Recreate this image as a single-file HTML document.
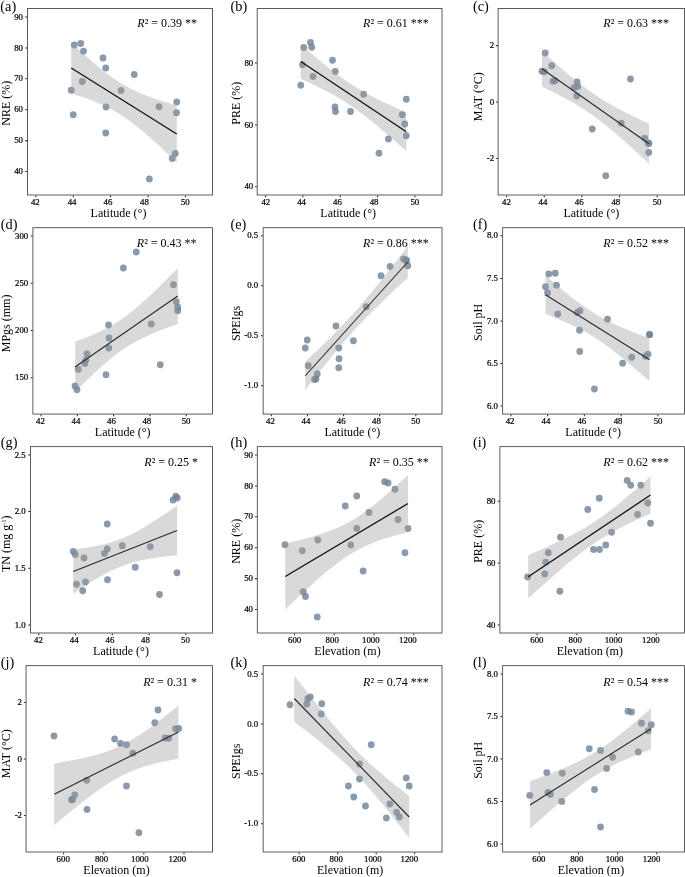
<!DOCTYPE html>
<html lang="en"><head><meta charset="utf-8"><title>Regression panels</title>
<style>
html,body{margin:0;padding:0;background:#ffffff;}
body{width:685px;height:877px;overflow:hidden;font-family:"Liberation Serif",serif;}
svg text{font-family:"Liberation Serif",serif;}
</style></head><body>
<svg width="685" height="877" viewBox="0 0 685 877" style="display:block;will-change:transform;font-family:'Liberation Serif',serif">
<rect x="0" y="0" width="685" height="877" fill="#ffffff"/>
<g>
<g fill="#6e8195" fill-opacity="0.8">
<circle cx="74.25" cy="45" r="3.4"/>
<circle cx="80.75" cy="43.5" r="3.4"/>
<circle cx="83.5" cy="51.25" r="3.4"/>
<circle cx="103" cy="58" r="3.4"/>
<circle cx="105.75" cy="68" r="3.4"/>
<circle cx="134.25" cy="74.5" r="3.4"/>
<circle cx="82.25" cy="81.5" r="3.4"/>
<circle cx="71.25" cy="90.25" r="3.4"/>
<circle cx="121" cy="90.5" r="3.4"/>
<circle cx="106" cy="107" r="3.4"/>
<circle cx="159" cy="106.75" r="3.4"/>
<circle cx="73.25" cy="114.75" r="3.4"/>
<circle cx="105.75" cy="133" r="3.4"/>
<circle cx="149.4" cy="179" r="3.4"/>
<circle cx="172.25" cy="158.5" r="3.4"/>
<circle cx="176.75" cy="102" r="3.4"/>
<circle cx="176.5" cy="112.75" r="3.4"/>
<circle cx="175.25" cy="153.5" r="3.4"/>
</g>
<path d="M71.25 42.51 L73.96 45.06 L76.66 47.6 L79.37 50.11 L82.07 52.6 L84.78 55.05 L87.48 57.48 L90.19 59.87 L92.89 62.22 L95.6 64.52 L98.3 66.78 L101.01 68.98 L103.71 71.13 L106.42 73.21 L109.12 75.23 L111.83 77.18 L114.53 79.05 L117.24 80.84 L119.94 82.56 L122.65 84.2 L125.35 85.76 L128.06 87.25 L130.76 88.66 L133.47 90 L136.17 91.28 L138.88 92.5 L141.58 93.66 L144.29 94.77 L146.99 95.83 L149.7 96.85 L152.4 97.83 L155.11 98.78 L157.81 99.7 L160.52 100.59 L163.22 101.45 L165.93 102.29 L168.63 103.11 L171.34 103.92 L174.04 104.7 L176.75 105.47 L176.75 162.53 L174.04 159.91 L171.34 157.32 L168.63 154.73 L165.93 152.17 L163.22 149.63 L160.52 147.11 L157.81 144.61 L155.11 142.14 L152.4 139.71 L149.7 137.3 L146.99 134.94 L144.29 132.62 L141.58 130.34 L138.88 128.12 L136.17 125.95 L133.47 123.84 L130.76 121.8 L128.06 119.83 L125.35 117.93 L122.65 116.11 L119.94 114.36 L117.24 112.69 L114.53 111.11 L111.83 109.59 L109.12 108.15 L106.42 106.79 L103.71 105.49 L101.01 104.25 L98.3 103.07 L95.6 101.94 L92.89 100.86 L90.19 99.83 L87.48 98.83 L84.78 97.87 L82.07 96.94 L79.37 96.04 L76.66 95.17 L73.96 94.32 L71.25 93.49 Z" fill="#999999" fill-opacity="0.375"/>
<line x1="71.25" y1="68" x2="176.75" y2="134" stroke="#111111" stroke-width="1.3"/>
<rect x="27.5" y="8.5" width="185" height="186.5" fill="none" stroke="#404040" stroke-width="0.85"/>
<path d="M35.91 195.4 v1.8 M73.28 195.4 v1.8 M110.66 195.4 v1.8 M148.03 195.4 v1.8 M185.4 195.4 v1.8 M27.1 17 h-1.8 M27.1 47.9 h-1.8 M27.1 78.8 h-1.8 M27.1 109.7 h-1.8 M27.1 140.6 h-1.8 M27.1 171.5 h-1.8" stroke="#262626" stroke-width="1.05" fill="none"/>
<g font-size="8.8" fill="#000000" stroke="#000000" stroke-width="0.22">
<text x="35.3" y="205.1" text-anchor="middle">42</text>
<text x="72.1" y="205.1" text-anchor="middle">44</text>
<text x="107.9" y="205.1" text-anchor="middle">46</text>
<text x="144.5" y="205.1" text-anchor="middle">48</text>
<text x="185.3" y="205.1" text-anchor="middle">50</text>
<text x="22.95" y="19.65" text-anchor="end">90</text>
<text x="22.95" y="50.55" text-anchor="end">80</text>
<text x="22.95" y="81.45" text-anchor="end">70</text>
<text x="22.95" y="112.35" text-anchor="end">60</text>
<text x="22.95" y="143.25" text-anchor="end">50</text>
<text x="22.95" y="174.15" text-anchor="end">40</text>
</g>
<text x="118.5" y="216.6" font-size="12" text-anchor="middle" fill="#000000">Latitude (°)</text>
<text transform="translate(9.5 103.25) rotate(-90)" font-size="12" text-anchor="middle" fill="#000000">NRE (%)</text>
<text x="0.35" y="10.9" font-size="14.3" fill="#000000">(a)</text>
<text x="197" y="27.35" font-size="12" text-anchor="end" fill="#000000"><tspan font-style="italic">R</tspan>² = 0.39 **</text>
</g>
<g>
<g fill="#6e8195" fill-opacity="0.8">
<circle cx="303.75" cy="47.5" r="3.4"/>
<circle cx="310.5" cy="42.5" r="3.4"/>
<circle cx="311.75" cy="47.25" r="3.4"/>
<circle cx="332.5" cy="60.25" r="3.4"/>
<circle cx="335.25" cy="71.5" r="3.4"/>
<circle cx="302.5" cy="64.75" r="3.4"/>
<circle cx="313" cy="76.5" r="3.4"/>
<circle cx="300.75" cy="85.25" r="3.4"/>
<circle cx="363.6" cy="94.25" r="3.4"/>
<circle cx="335" cy="107" r="3.4"/>
<circle cx="335.5" cy="111.5" r="3.4"/>
<circle cx="350.5" cy="111.5" r="3.4"/>
<circle cx="388.4" cy="139" r="3.4"/>
<circle cx="379" cy="153.25" r="3.4"/>
<circle cx="406.25" cy="99.25" r="3.4"/>
<circle cx="402.25" cy="114.75" r="3.4"/>
<circle cx="404.75" cy="124" r="3.4"/>
<circle cx="406.25" cy="135.75" r="3.4"/>
</g>
<path d="M300.75 44.14 L303.46 46.53 L306.16 48.91 L308.87 51.26 L311.57 53.61 L314.28 55.93 L316.98 58.23 L319.69 60.5 L322.39 62.75 L325.1 64.97 L327.8 67.15 L330.51 69.3 L333.21 71.41 L335.92 73.48 L338.62 75.5 L341.33 77.47 L344.03 79.4 L346.74 81.27 L349.44 83.09 L352.15 84.85 L354.85 86.57 L357.56 88.23 L360.26 89.84 L362.97 91.4 L365.67 92.92 L368.38 94.4 L371.08 95.84 L373.79 97.25 L376.49 98.62 L379.2 99.97 L381.9 101.29 L384.61 102.58 L387.31 103.86 L390.02 105.11 L392.72 106.35 L395.43 107.57 L398.13 108.78 L400.84 109.98 L403.54 111.16 L406.25 112.34 L406.25 151.16 L403.54 148.73 L400.84 146.32 L398.13 143.91 L395.43 141.52 L392.72 139.14 L390.02 136.77 L387.31 134.43 L384.61 132.1 L381.9 129.79 L379.2 127.51 L376.49 125.25 L373.79 123.02 L371.08 120.82 L368.38 118.66 L365.67 116.54 L362.97 114.46 L360.26 112.42 L357.56 110.43 L354.85 108.48 L352.15 106.59 L349.44 104.76 L346.74 102.97 L344.03 101.24 L341.33 99.56 L338.62 97.94 L335.92 96.36 L333.21 94.82 L330.51 93.33 L327.8 91.87 L325.1 90.46 L322.39 89.07 L319.69 87.72 L316.98 86.39 L314.28 85.09 L311.57 83.81 L308.87 82.54 L306.16 81.3 L303.46 80.07 L300.75 78.86 Z" fill="#999999" fill-opacity="0.375"/>
<line x1="300.75" y1="61.5" x2="406.25" y2="131.75" stroke="#111111" stroke-width="1.3"/>
<rect x="257.2" y="8.5" width="184.8" height="186.5" fill="none" stroke="#404040" stroke-width="0.85"/>
<path d="M265.6 195.4 v1.8 M302.93 195.4 v1.8 M340.27 195.4 v1.8 M377.6 195.4 v1.8 M414.93 195.4 v1.8 M256.8 63 h-1.8 M256.8 125 h-1.8 M256.8 186.75 h-1.8" stroke="#262626" stroke-width="1.05" fill="none"/>
<g font-size="8.8" fill="#000000" stroke="#000000" stroke-width="0.22">
<text x="265.8" y="205.1" text-anchor="middle">42</text>
<text x="301.6" y="205.1" text-anchor="middle">44</text>
<text x="337.5" y="205.1" text-anchor="middle">46</text>
<text x="374.1" y="205.1" text-anchor="middle">48</text>
<text x="414.8" y="205.1" text-anchor="middle">50</text>
<text x="253.2" y="65.65" text-anchor="end">80</text>
<text x="253.2" y="127.65" text-anchor="end">60</text>
<text x="253.2" y="189.4" text-anchor="end">40</text>
</g>
<text x="348.2" y="216.6" font-size="12" text-anchor="middle" fill="#000000">Latitude (°)</text>
<text transform="translate(239.75 103.25) rotate(-90)" font-size="12" text-anchor="middle" fill="#000000">PRE (%)</text>
<text x="230.5" y="10.9" font-size="14.3" fill="#000000">(b)</text>
<text x="428.75" y="27.35" font-size="12" text-anchor="end" fill="#000000"><tspan font-style="italic">R</tspan>² = 0.61 ***</text>
</g>
<g>
<g fill="#6e8195" fill-opacity="0.8">
<circle cx="545.25" cy="53" r="3.4"/>
<circle cx="551.75" cy="65.75" r="3.4"/>
<circle cx="542" cy="71.25" r="3.4"/>
<circle cx="544.25" cy="71.75" r="3.4"/>
<circle cx="553" cy="81.25" r="3.4"/>
<circle cx="555" cy="80.75" r="3.4"/>
<circle cx="577" cy="82" r="3.4"/>
<circle cx="574" cy="87.75" r="3.4"/>
<circle cx="577.75" cy="86.5" r="3.4"/>
<circle cx="576.75" cy="96" r="3.4"/>
<circle cx="621.25" cy="123.25" r="3.4"/>
<circle cx="592.25" cy="129" r="3.4"/>
<circle cx="605.75" cy="175.75" r="3.4"/>
<circle cx="630.5" cy="79" r="3.4"/>
<circle cx="644.75" cy="138.25" r="3.4"/>
<circle cx="648" cy="143" r="3.4"/>
<circle cx="648.75" cy="152.5" r="3.4"/>
<circle cx="649" cy="143.5" r="3.4"/>
</g>
<path d="M542 50.89 L544.74 53.42 L547.49 55.93 L550.23 58.43 L552.97 60.91 L555.72 63.37 L558.46 65.8 L561.21 68.21 L563.95 70.6 L566.69 72.95 L569.44 75.27 L572.18 77.55 L574.92 79.8 L577.67 81.99 L580.41 84.15 L583.15 86.25 L585.9 88.3 L588.64 90.29 L591.38 92.24 L594.13 94.12 L596.87 95.96 L599.62 97.73 L602.36 99.46 L605.1 101.14 L607.85 102.77 L610.59 104.37 L613.33 105.92 L616.08 107.43 L618.82 108.92 L621.56 110.37 L624.31 111.79 L627.05 113.2 L629.79 114.58 L632.54 115.94 L635.28 117.28 L638.03 118.61 L640.77 119.92 L643.51 121.22 L646.26 122.51 L649 123.79 L649 163.71 L646.26 161.14 L643.51 158.59 L640.77 156.04 L638.03 153.51 L635.28 150.99 L632.54 148.49 L629.79 146 L627.05 143.53 L624.31 141.09 L621.56 138.67 L618.82 136.28 L616.08 133.91 L613.33 131.58 L610.59 129.29 L607.85 127.03 L605.1 124.82 L602.36 122.65 L599.62 120.54 L596.87 118.47 L594.13 116.45 L591.38 114.49 L588.64 112.59 L585.9 110.74 L583.15 108.94 L580.41 107.2 L577.67 105.51 L574.92 103.86 L572.18 102.25 L569.44 100.69 L566.69 99.16 L563.95 97.67 L561.21 96.21 L558.46 94.77 L555.72 93.36 L552.97 91.98 L550.23 90.61 L547.49 89.26 L544.74 87.93 L542 86.61 Z" fill="#999999" fill-opacity="0.375"/>
<line x1="542" y1="68.75" x2="649" y2="143.75" stroke="#2a2a2a" stroke-width="1.1"/>
<rect x="498.1" y="8.5" width="186.4" height="186.5" fill="none" stroke="#404040" stroke-width="0.85"/>
<path d="M506.57 195.4 v1.8 M544.23 195.4 v1.8 M581.89 195.4 v1.8 M619.54 195.4 v1.8 M657.2 195.4 v1.8 M497.7 45.6 h-1.8 M497.7 102 h-1.8 M497.7 158.5 h-1.8" stroke="#262626" stroke-width="1.05" fill="none"/>
<g font-size="8.8" fill="#000000" stroke="#000000" stroke-width="0.22">
<text x="506.4" y="205.1" text-anchor="middle">42</text>
<text x="542.9" y="205.1" text-anchor="middle">44</text>
<text x="579.2" y="205.1" text-anchor="middle">46</text>
<text x="615.8" y="205.1" text-anchor="middle">48</text>
<text x="657.1" y="205.1" text-anchor="middle">50</text>
<text x="494.2" y="48.25" text-anchor="end">2</text>
<text x="494.2" y="104.65" text-anchor="end">0</text>
<text x="494.2" y="161.15" text-anchor="end">-2</text>
</g>
<text x="591.3" y="216.6" font-size="12" text-anchor="middle" fill="#000000">Latitude (°)</text>
<text transform="translate(482 96.75) rotate(-90)" font-size="12" text-anchor="middle" fill="#000000">MAT (°C)</text>
<text x="473" y="10.9" font-size="14.3" fill="#000000">(c)</text>
<text x="669" y="27.35" font-size="12" text-anchor="end" fill="#000000"><tspan font-style="italic">R</tspan>² = 0.63 ***</text>
</g>
<g>
<g fill="#6e8195" fill-opacity="0.8">
<circle cx="136.25" cy="252" r="3.4"/>
<circle cx="123.4" cy="268" r="3.4"/>
<circle cx="108.5" cy="325" r="3.4"/>
<circle cx="151.25" cy="324" r="3.4"/>
<circle cx="109" cy="338" r="3.4"/>
<circle cx="108.75" cy="348" r="3.4"/>
<circle cx="87" cy="354" r="3.4"/>
<circle cx="85.75" cy="360.25" r="3.4"/>
<circle cx="84.75" cy="363.5" r="3.4"/>
<circle cx="78.25" cy="369.25" r="3.4"/>
<circle cx="106" cy="374.75" r="3.4"/>
<circle cx="160.25" cy="364.75" r="3.4"/>
<circle cx="75" cy="386" r="3.4"/>
<circle cx="77" cy="389.75" r="3.4"/>
<circle cx="173.5" cy="284.75" r="3.4"/>
<circle cx="176.25" cy="301.75" r="3.4"/>
<circle cx="177.75" cy="307.25" r="3.4"/>
<circle cx="177.75" cy="310.75" r="3.4"/>
</g>
<path d="M75.25 341.69 L77.88 340.72 L80.51 339.74 L83.13 338.73 L85.76 337.69 L88.39 336.63 L91.02 335.54 L93.65 334.4 L96.28 333.24 L98.9 332.02 L101.53 330.76 L104.16 329.45 L106.79 328.08 L109.42 326.65 L112.04 325.15 L114.67 323.59 L117.3 321.95 L119.93 320.23 L122.56 318.44 L125.19 316.57 L127.81 314.63 L130.44 312.61 L133.07 310.52 L135.7 308.36 L138.33 306.14 L140.96 303.85 L143.58 301.52 L146.21 299.13 L148.84 296.7 L151.47 294.22 L154.1 291.71 L156.72 289.16 L159.35 286.59 L161.98 283.98 L164.61 281.35 L167.24 278.7 L169.87 276.03 L172.49 273.34 L175.12 270.64 L177.75 267.92 L177.75 324.08 L175.12 324.99 L172.49 325.92 L169.87 326.85 L167.24 327.81 L164.61 328.79 L161.98 329.79 L159.35 330.81 L156.72 331.86 L154.1 332.95 L151.47 334.06 L148.84 335.21 L146.21 336.41 L143.58 337.65 L140.96 338.94 L138.33 340.29 L135.7 341.69 L133.07 343.16 L130.44 344.7 L127.81 346.31 L125.19 347.99 L122.56 349.75 L119.93 351.59 L117.3 353.5 L114.67 355.49 L112.04 357.55 L109.42 359.68 L106.79 361.88 L104.16 364.14 L101.53 366.46 L98.9 368.82 L96.28 371.24 L93.65 373.7 L91.02 376.2 L88.39 378.73 L85.76 381.29 L83.13 383.89 L80.51 386.51 L77.88 389.15 L75.25 391.81 Z" fill="#999999" fill-opacity="0.375"/>
<line x1="75.25" y1="366.75" x2="177.75" y2="296" stroke="#2a2a2a" stroke-width="1.1"/>
<rect x="32.9" y="227.7" width="179.6" height="186.35" fill="none" stroke="#404040" stroke-width="0.85"/>
<path d="M41.06 414.45 v1.8 M77.35 414.45 v1.8 M113.63 414.45 v1.8 M149.91 414.45 v1.8 M186.19 414.45 v1.8 M32.5 236 h-1.8 M32.5 283.25 h-1.8 M32.5 330.5 h-1.8 M32.5 377.75 h-1.8" stroke="#262626" stroke-width="1.05" fill="none"/>
<g font-size="8.8" fill="#000000" stroke="#000000" stroke-width="0.22">
<text x="40.4" y="424.1" text-anchor="middle">42</text>
<text x="75.9" y="424.1" text-anchor="middle">44</text>
<text x="111.5" y="424.1" text-anchor="middle">46</text>
<text x="146.8" y="424.1" text-anchor="middle">48</text>
<text x="186.1" y="424.1" text-anchor="middle">50</text>
<text x="28.2" y="238.65" text-anchor="end">300</text>
<text x="28.2" y="285.9" text-anchor="end">250</text>
<text x="28.2" y="333.15" text-anchor="end">200</text>
<text x="28.2" y="380.4" text-anchor="end">150</text>
</g>
<text x="122.7" y="435.6" font-size="12" text-anchor="middle" fill="#000000">Latitude (°)</text>
<text transform="translate(9.5 323.38) rotate(-90)" font-size="12" text-anchor="middle" fill="#000000">MPgs (mm)</text>
<text x="0.75" y="229.35" font-size="14.3" fill="#000000">(d)</text>
<text x="196.5" y="246.55" font-size="12" text-anchor="end" fill="#000000"><tspan font-style="italic">R</tspan>² = 0.43 **</text>
</g>
<g>
<g fill="#6e8195" fill-opacity="0.8">
<circle cx="390.1" cy="266.5" r="3.4"/>
<circle cx="381" cy="275.75" r="3.4"/>
<circle cx="366.25" cy="306.75" r="3.4"/>
<circle cx="336" cy="326" r="3.4"/>
<circle cx="307.25" cy="340" r="3.4"/>
<circle cx="353.4" cy="340.75" r="3.4"/>
<circle cx="305.25" cy="348" r="3.4"/>
<circle cx="338.75" cy="348" r="3.4"/>
<circle cx="339" cy="358.75" r="3.4"/>
<circle cx="338.75" cy="367.75" r="3.4"/>
<circle cx="308.25" cy="365.75" r="3.4"/>
<circle cx="317.25" cy="374" r="3.4"/>
<circle cx="314.5" cy="379.5" r="3.4"/>
<circle cx="316" cy="379" r="3.4"/>
<circle cx="403.5" cy="259" r="3.4"/>
<circle cx="406.5" cy="260.75" r="3.4"/>
<circle cx="407.75" cy="265.75" r="3.4"/>
<circle cx="406" cy="260" r="3.4"/>
</g>
<path d="M305.25 361.56 L307.88 359.13 L310.51 356.68 L313.13 354.22 L315.76 351.75 L318.39 349.26 L321.02 346.75 L323.65 344.22 L326.28 341.67 L328.9 339.1 L331.53 336.5 L334.16 333.87 L336.79 331.2 L339.42 328.5 L342.04 325.77 L344.67 322.99 L347.3 320.17 L349.93 317.31 L352.56 314.41 L355.19 311.46 L357.81 308.47 L360.44 305.43 L363.07 302.36 L365.7 299.24 L368.33 296.09 L370.96 292.91 L373.58 289.69 L376.21 286.45 L378.84 283.18 L381.47 279.89 L384.1 276.57 L386.72 273.24 L389.35 269.89 L391.98 266.52 L394.61 263.14 L397.24 259.75 L399.87 256.34 L402.49 252.93 L405.12 249.5 L407.75 246.07 L407.75 277.93 L405.12 280.33 L402.49 282.74 L399.87 285.16 L397.24 287.59 L394.61 290.03 L391.98 292.48 L389.35 294.95 L386.72 297.43 L384.1 299.93 L381.47 302.45 L378.84 304.99 L376.21 307.55 L373.58 310.14 L370.96 312.76 L368.33 315.41 L365.7 318.09 L363.07 320.81 L360.44 323.57 L357.81 326.37 L355.19 329.21 L352.56 332.09 L349.93 335.02 L347.3 337.99 L344.67 341.01 L342.04 344.07 L339.42 347.16 L336.79 350.3 L334.16 353.47 L331.53 356.67 L328.9 359.9 L326.28 363.16 L323.65 366.44 L321.02 369.75 L318.39 373.07 L315.76 376.42 L313.13 379.78 L310.51 383.15 L307.88 386.54 L305.25 389.94 Z" fill="#999999" fill-opacity="0.375"/>
<line x1="305.25" y1="375.75" x2="407.75" y2="262" stroke="#2a2a2a" stroke-width="1.1"/>
<rect x="263.15" y="227.7" width="178.85" height="186.35" fill="none" stroke="#404040" stroke-width="0.85"/>
<path d="M271.28 414.45 v1.8 M307.41 414.45 v1.8 M343.54 414.45 v1.8 M379.67 414.45 v1.8 M415.8 414.45 v1.8 M262.75 235.75 h-1.8 M262.75 285.75 h-1.8 M262.75 335.75 h-1.8 M262.75 385.75 h-1.8" stroke="#262626" stroke-width="1.05" fill="none"/>
<g font-size="8.8" fill="#000000" stroke="#000000" stroke-width="0.22">
<text x="270.4" y="424.1" text-anchor="middle">42</text>
<text x="305.9" y="424.1" text-anchor="middle">44</text>
<text x="341.2" y="424.1" text-anchor="middle">46</text>
<text x="376.5" y="424.1" text-anchor="middle">48</text>
<text x="415.7" y="424.1" text-anchor="middle">50</text>
<text x="258.15" y="238.4" text-anchor="end">0.5</text>
<text x="258.15" y="288.4" text-anchor="end">0.0</text>
<text x="258.15" y="338.4" text-anchor="end">-0.5</text>
<text x="258.15" y="388.4" text-anchor="end">-1.0</text>
</g>
<text x="352.3" y="435.6" font-size="12" text-anchor="middle" fill="#000000">Latitude (°)</text>
<text transform="translate(239.75 323.38) rotate(-90)" font-size="12" text-anchor="middle" fill="#000000">SPEIgs</text>
<text x="230.5" y="229.35" font-size="14.3" fill="#000000">(e)</text>
<text x="428.75" y="246.55" font-size="12" text-anchor="end" fill="#000000"><tspan font-style="italic">R</tspan>² = 0.86 ***</text>
</g>
<g>
<g fill="#6e8195" fill-opacity="0.8">
<circle cx="548.75" cy="274" r="3.4"/>
<circle cx="555.25" cy="273.25" r="3.4"/>
<circle cx="556.5" cy="285.25" r="3.4"/>
<circle cx="545.5" cy="286.75" r="3.4"/>
<circle cx="547.5" cy="292.75" r="3.4"/>
<circle cx="557.75" cy="314" r="3.4"/>
<circle cx="577.25" cy="312.5" r="3.4"/>
<circle cx="580" cy="310.75" r="3.4"/>
<circle cx="607.5" cy="319.25" r="3.4"/>
<circle cx="579.5" cy="330.25" r="3.4"/>
<circle cx="579.75" cy="351.5" r="3.4"/>
<circle cx="622.6" cy="363.25" r="3.4"/>
<circle cx="594.4" cy="389" r="3.4"/>
<circle cx="649.5" cy="334.5" r="3.4"/>
<circle cx="649.6" cy="334.7" r="3.4"/>
<circle cx="648" cy="354.25" r="3.4"/>
<circle cx="645.5" cy="356.25" r="3.4"/>
<circle cx="631.75" cy="357.25" r="3.4"/>
</g>
<path d="M545.5 275.41 L548.17 277.74 L550.83 280.04 L553.5 282.33 L556.17 284.6 L558.83 286.85 L561.5 289.07 L564.17 291.27 L566.83 293.43 L569.5 295.56 L572.17 297.66 L574.83 299.72 L577.5 301.73 L580.17 303.7 L582.83 305.61 L585.5 307.47 L588.17 309.28 L590.83 311.03 L593.5 312.72 L596.17 314.34 L598.83 315.91 L601.5 317.43 L604.17 318.88 L606.83 320.29 L609.5 321.64 L612.17 322.95 L614.83 324.22 L617.5 325.44 L620.17 326.63 L622.83 327.79 L625.5 328.92 L628.17 330.03 L630.83 331.11 L633.5 332.17 L636.17 333.21 L638.83 334.23 L641.5 335.24 L644.17 336.23 L646.83 337.21 L649.5 338.18 L649.5 381.32 L646.83 378.96 L644.17 376.6 L641.5 374.26 L638.83 371.94 L636.17 369.63 L633.5 367.33 L630.83 365.06 L628.17 362.81 L625.5 360.58 L622.83 358.37 L620.17 356.2 L617.5 354.06 L614.83 351.95 L612.17 349.88 L609.5 347.86 L606.83 345.88 L604.17 343.95 L601.5 342.07 L598.83 340.25 L596.17 338.49 L593.5 336.78 L590.83 335.14 L588.17 333.55 L585.5 332.03 L582.83 330.55 L580.17 329.14 L577.5 327.77 L574.83 326.45 L572.17 325.17 L569.5 323.94 L566.83 322.74 L564.17 321.57 L561.5 320.43 L558.83 319.32 L556.17 318.23 L553.5 317.17 L550.83 316.12 L548.17 315.1 L545.5 314.09 Z" fill="#999999" fill-opacity="0.375"/>
<line x1="545.5" y1="294.75" x2="649.5" y2="359.75" stroke="#2a2a2a" stroke-width="1.1"/>
<rect x="502.65" y="227.7" width="181.85" height="186.35" fill="none" stroke="#404040" stroke-width="0.85"/>
<path d="M510.92 414.45 v1.8 M547.65 414.45 v1.8 M584.39 414.45 v1.8 M621.13 414.45 v1.8 M657.87 414.45 v1.8 M502.25 235.75 h-1.8 M502.25 278.5 h-1.8 M502.25 321 h-1.8 M502.25 363.5 h-1.8 M502.25 406 h-1.8" stroke="#262626" stroke-width="1.05" fill="none"/>
<g font-size="8.8" fill="#000000" stroke="#000000" stroke-width="0.22">
<text x="510.1" y="424.1" text-anchor="middle">42</text>
<text x="545.9" y="424.1" text-anchor="middle">44</text>
<text x="581.8" y="424.1" text-anchor="middle">46</text>
<text x="618.1" y="424.1" text-anchor="middle">48</text>
<text x="658.1" y="424.1" text-anchor="middle">50</text>
<text x="497.95" y="238.4" text-anchor="end">8.0</text>
<text x="497.95" y="281.15" text-anchor="end">7.5</text>
<text x="497.95" y="323.65" text-anchor="end">7.0</text>
<text x="497.95" y="366.15" text-anchor="end">6.5</text>
<text x="497.95" y="408.65" text-anchor="end">6.0</text>
</g>
<text x="593.2" y="435.6" font-size="12" text-anchor="middle" fill="#000000">Latitude (°)</text>
<text transform="translate(482 322.38) rotate(-90)" font-size="12" text-anchor="middle" fill="#000000">Soil pH</text>
<text x="473" y="229.35" font-size="14.3" fill="#000000">(f)</text>
<text x="669" y="246.55" font-size="12" text-anchor="end" fill="#000000"><tspan font-style="italic">R</tspan>² = 0.52 ***</text>
</g>
<g>
<g fill="#6e8195" fill-opacity="0.8">
<circle cx="107.25" cy="524" r="3.4"/>
<circle cx="107.25" cy="549" r="3.4"/>
<circle cx="122.25" cy="545.75" r="3.4"/>
<circle cx="150.25" cy="546.75" r="3.4"/>
<circle cx="73.25" cy="551.5" r="3.4"/>
<circle cx="75.25" cy="554.5" r="3.4"/>
<circle cx="104.4" cy="553.5" r="3.4"/>
<circle cx="84" cy="558" r="3.4"/>
<circle cx="135.25" cy="567.25" r="3.4"/>
<circle cx="107.5" cy="579.75" r="3.4"/>
<circle cx="85.5" cy="582" r="3.4"/>
<circle cx="76.5" cy="584.25" r="3.4"/>
<circle cx="82.75" cy="590.75" r="3.4"/>
<circle cx="159.5" cy="594.5" r="3.4"/>
<circle cx="173" cy="500" r="3.4"/>
<circle cx="175.75" cy="496.25" r="3.4"/>
<circle cx="177.25" cy="498" r="3.4"/>
<circle cx="177" cy="572.75" r="3.4"/>
</g>
<path d="M73.25 549.3 L75.91 549 L78.57 548.68 L81.23 548.34 L83.89 547.98 L86.55 547.59 L89.21 547.18 L91.87 546.73 L94.53 546.26 L97.19 545.74 L99.85 545.18 L102.51 544.57 L105.17 543.92 L107.83 543.21 L110.49 542.44 L113.15 541.62 L115.81 540.72 L118.47 539.76 L121.13 538.74 L123.79 537.64 L126.46 536.48 L129.12 535.25 L131.78 533.96 L134.44 532.61 L137.1 531.2 L139.76 529.74 L142.42 528.23 L145.08 526.67 L147.74 525.08 L150.4 523.44 L153.06 521.78 L155.72 520.08 L158.38 518.36 L161.04 516.61 L163.7 514.84 L166.36 513.05 L169.02 511.24 L171.68 509.42 L174.34 507.58 L177 505.73 L177 555.27 L174.34 555.52 L171.68 555.78 L169.02 556.06 L166.36 556.36 L163.7 556.67 L161.04 557 L158.38 557.36 L155.72 557.74 L153.06 558.14 L150.4 558.58 L147.74 559.05 L145.08 559.56 L142.42 560.1 L139.76 560.7 L137.1 561.34 L134.44 562.03 L131.78 562.78 L129.12 563.59 L126.46 564.47 L123.79 565.41 L121.13 566.42 L118.47 567.49 L115.81 568.64 L113.15 569.85 L110.49 571.12 L107.83 572.46 L105.17 573.85 L102.51 575.3 L99.85 576.8 L97.19 578.34 L94.53 579.92 L91.87 581.55 L89.21 583.2 L86.55 584.89 L83.89 586.61 L81.23 588.35 L78.57 590.11 L75.91 591.9 L73.25 593.7 Z" fill="#999999" fill-opacity="0.375"/>
<line x1="73.25" y1="571.5" x2="177" y2="530.5" stroke="#2a2a2a" stroke-width="1.1"/>
<rect x="30.5" y="446.65" width="182" height="186.35" fill="none" stroke="#404040" stroke-width="0.85"/>
<path d="M38.77 633.4 v1.8 M75.54 633.4 v1.8 M112.31 633.4 v1.8 M149.08 633.4 v1.8 M185.84 633.4 v1.8 M30.1 455 h-1.8 M30.1 511.5 h-1.8 M30.1 568.25 h-1.8 M30.1 625 h-1.8" stroke="#262626" stroke-width="1.05" fill="none"/>
<g font-size="8.8" fill="#000000" stroke="#000000" stroke-width="0.22">
<text x="38.4" y="643.1" text-anchor="middle">42</text>
<text x="74.2" y="643.1" text-anchor="middle">44</text>
<text x="109.9" y="643.1" text-anchor="middle">46</text>
<text x="145.5" y="643.1" text-anchor="middle">48</text>
<text x="185.4" y="643.1" text-anchor="middle">50</text>
<text x="25.7" y="457.65" text-anchor="end">2.5</text>
<text x="25.7" y="514.15" text-anchor="end">2.0</text>
<text x="25.7" y="570.9" text-anchor="end">1.5</text>
<text x="25.7" y="627.65" text-anchor="end">1.0</text>
</g>
<text x="121" y="654.6" font-size="12" text-anchor="middle" fill="#000000">Latitude (°)</text>
<text transform="translate(9.5 543.83) rotate(-90)" font-size="12" text-anchor="middle" fill="#000000">TN (mg g<tspan font-size="6.3" dy="-3.6">-1</tspan><tspan dy="3.6">)</tspan></text>
<text x="0.75" y="447.05" font-size="14.3" fill="#000000">(g)</text>
<text x="198" y="465.5" font-size="12" text-anchor="end" fill="#000000"><tspan font-style="italic">R</tspan>² = 0.25 *</text>
</g>
<g>
<g fill="#6e8195" fill-opacity="0.8">
<circle cx="285" cy="544.75" r="3.4"/>
<circle cx="302.25" cy="550.75" r="3.4"/>
<circle cx="317.75" cy="540" r="3.4"/>
<circle cx="345.25" cy="506" r="3.4"/>
<circle cx="356.75" cy="496" r="3.4"/>
<circle cx="384.6" cy="481.75" r="3.4"/>
<circle cx="388.1" cy="483" r="3.4"/>
<circle cx="395" cy="489.25" r="3.4"/>
<circle cx="369" cy="512.5" r="3.4"/>
<circle cx="356.75" cy="528.5" r="3.4"/>
<circle cx="350.75" cy="545" r="3.4"/>
<circle cx="363.1" cy="571" r="3.4"/>
<circle cx="303.25" cy="591.75" r="3.4"/>
<circle cx="305.5" cy="596.5" r="3.4"/>
<circle cx="317.25" cy="617" r="3.4"/>
<circle cx="398" cy="519.5" r="3.4"/>
<circle cx="408" cy="528.5" r="3.4"/>
<circle cx="405" cy="552.75" r="3.4"/>
</g>
<path d="M285.25 543.4 L288.4 542.68 L291.54 541.95 L294.69 541.21 L297.84 540.44 L300.99 539.66 L304.13 538.85 L307.28 538.01 L310.43 537.15 L313.58 536.25 L316.72 535.32 L319.87 534.34 L323.02 533.32 L326.17 532.24 L329.31 531.1 L332.46 529.89 L335.61 528.61 L338.76 527.24 L341.9 525.78 L345.05 524.23 L348.2 522.57 L351.35 520.8 L354.49 518.93 L357.64 516.95 L360.79 514.86 L363.94 512.66 L367.08 510.37 L370.23 507.99 L373.38 505.53 L376.53 502.99 L379.67 500.38 L382.82 497.72 L385.97 495 L389.12 492.23 L392.26 489.42 L395.41 486.57 L398.56 483.69 L401.71 480.78 L404.85 477.84 L408 474.88 L408 532.12 L404.85 532.9 L401.71 533.71 L398.56 534.54 L395.41 535.41 L392.26 536.3 L389.12 537.23 L385.97 538.21 L382.82 539.23 L379.67 540.31 L376.53 541.45 L373.38 542.65 L370.23 543.93 L367.08 545.29 L363.94 546.75 L360.79 548.3 L357.64 549.95 L354.49 551.71 L351.35 553.58 L348.2 555.56 L345.05 557.65 L341.9 559.83 L338.76 562.12 L335.61 564.5 L332.46 566.96 L329.31 569.49 L326.17 572.1 L323.02 574.76 L319.87 577.48 L316.72 580.25 L313.58 583.05 L310.43 585.9 L307.28 588.78 L304.13 591.69 L300.99 594.63 L297.84 597.58 L294.69 600.56 L291.54 603.56 L288.4 606.58 L285.25 609.6 Z" fill="#999999" fill-opacity="0.375"/>
<line x1="285.25" y1="576.5" x2="408" y2="503.5" stroke="#111111" stroke-width="1.3"/>
<rect x="257.3" y="446.65" width="184.7" height="186.35" fill="none" stroke="#404040" stroke-width="0.85"/>
<path d="M294.51 633.4 v1.8 M334.25 633.4 v1.8 M373.99 633.4 v1.8 M413.73 633.4 v1.8 M256.9 455 h-1.8 M256.9 485.9 h-1.8 M256.9 516.8 h-1.8 M256.9 547.7 h-1.8 M256.9 578.6 h-1.8 M256.9 609.5 h-1.8" stroke="#262626" stroke-width="1.05" fill="none"/>
<g font-size="8.8" fill="#000000" stroke="#000000" stroke-width="0.22">
<text x="294.6" y="643.1" text-anchor="middle">600</text>
<text x="332.2" y="643.1" text-anchor="middle">800</text>
<text x="370.8" y="643.1" text-anchor="middle">1000</text>
<text x="407.9" y="643.1" text-anchor="middle">1200</text>
<text x="252.95" y="457.65" text-anchor="end">90</text>
<text x="252.95" y="488.55" text-anchor="end">80</text>
<text x="252.95" y="519.45" text-anchor="end">70</text>
<text x="252.95" y="550.35" text-anchor="end">60</text>
<text x="252.95" y="581.25" text-anchor="end">50</text>
<text x="252.95" y="612.15" text-anchor="end">40</text>
</g>
<text x="347.5" y="654.6" font-size="12" text-anchor="middle" fill="#000000">Elevation (m)</text>
<text transform="translate(239.75 541.33) rotate(-90)" font-size="12" text-anchor="middle" fill="#000000">NRE (%)</text>
<text x="230.5" y="447.05" font-size="14.3" fill="#000000">(h)</text>
<text x="428.75" y="465.5" font-size="12" text-anchor="end" fill="#000000"><tspan font-style="italic">R</tspan>² = 0.35 **</text>
</g>
<g>
<g fill="#6e8195" fill-opacity="0.8">
<circle cx="527.6" cy="577" r="3.4"/>
<circle cx="544.75" cy="574" r="3.4"/>
<circle cx="545.75" cy="562.25" r="3.4"/>
<circle cx="548.25" cy="552.75" r="3.4"/>
<circle cx="560.5" cy="537.25" r="3.4"/>
<circle cx="559.9" cy="591.25" r="3.4"/>
<circle cx="587.75" cy="509.5" r="3.4"/>
<circle cx="599.25" cy="498.25" r="3.4"/>
<circle cx="593.5" cy="549.5" r="3.4"/>
<circle cx="599.5" cy="549.5" r="3.4"/>
<circle cx="605.75" cy="545" r="3.4"/>
<circle cx="611.6" cy="532.25" r="3.4"/>
<circle cx="627.2" cy="480.5" r="3.4"/>
<circle cx="630.75" cy="485.25" r="3.4"/>
<circle cx="640.75" cy="485.25" r="3.4"/>
<circle cx="647.75" cy="503" r="3.4"/>
<circle cx="637.5" cy="514.5" r="3.4"/>
<circle cx="650.5" cy="523.25" r="3.4"/>
</g>
<path d="M528.25 555.18 L531.38 553.83 L534.52 552.48 L537.65 551.12 L540.79 549.74 L543.92 548.35 L547.06 546.95 L550.19 545.53 L553.33 544.08 L556.46 542.62 L559.6 541.13 L562.73 539.62 L565.87 538.07 L569 536.49 L572.13 534.87 L575.27 533.2 L578.4 531.49 L581.54 529.72 L584.67 527.89 L587.81 525.99 L590.94 524.03 L594.08 522.01 L597.21 519.91 L600.35 517.73 L603.48 515.49 L606.62 513.19 L609.75 510.82 L612.88 508.39 L616.02 505.91 L619.15 503.38 L622.29 500.8 L625.42 498.19 L628.56 495.54 L631.69 492.86 L634.83 490.15 L637.96 487.42 L641.1 484.67 L644.23 481.89 L647.37 479.1 L650.5 476.3 L650.5 513.7 L647.37 515.09 L644.23 516.49 L641.1 517.91 L637.96 519.35 L634.83 520.81 L631.69 522.3 L628.56 523.81 L625.42 525.35 L622.29 526.93 L619.15 528.55 L616.02 530.21 L612.88 531.92 L609.75 533.68 L606.62 535.5 L603.48 537.39 L600.35 539.34 L597.21 541.36 L594.08 543.46 L590.94 545.62 L587.81 547.85 L584.67 550.15 L581.54 552.51 L578.4 554.94 L575.27 557.41 L572.13 559.94 L569 562.51 L565.87 565.12 L562.73 567.77 L559.6 570.44 L556.46 573.15 L553.33 575.88 L550.19 578.63 L547.06 581.4 L543.92 584.19 L540.79 586.99 L537.65 589.81 L534.52 592.63 L531.38 595.47 L528.25 598.32 Z" fill="#999999" fill-opacity="0.375"/>
<line x1="528.25" y1="576.75" x2="650.5" y2="495" stroke="#111111" stroke-width="1.3"/>
<rect x="499.9" y="446.65" width="184.6" height="186.35" fill="none" stroke="#404040" stroke-width="0.85"/>
<path d="M537.09 633.4 v1.8 M576.81 633.4 v1.8 M616.53 633.4 v1.8 M656.25 633.4 v1.8 M499.5 501.25 h-1.8 M499.5 563 h-1.8 M499.5 625 h-1.8" stroke="#262626" stroke-width="1.05" fill="none"/>
<g font-size="8.8" fill="#000000" stroke="#000000" stroke-width="0.22">
<text x="536.9" y="643.1" text-anchor="middle">600</text>
<text x="575.2" y="643.1" text-anchor="middle">800</text>
<text x="613.5" y="643.1" text-anchor="middle">1000</text>
<text x="650.9" y="643.1" text-anchor="middle">1200</text>
<text x="495.5" y="503.9" text-anchor="end">80</text>
<text x="495.5" y="565.65" text-anchor="end">60</text>
<text x="495.5" y="627.65" text-anchor="end">40</text>
</g>
<text x="589.8" y="654.6" font-size="12" text-anchor="middle" fill="#000000">Elevation (m)</text>
<text transform="translate(482 541.33) rotate(-90)" font-size="12" text-anchor="middle" fill="#000000">PRE (%)</text>
<text x="472.9" y="447.05" font-size="14.3" fill="#000000">(i)</text>
<text x="669" y="465.5" font-size="12" text-anchor="end" fill="#000000"><tspan font-style="italic">R</tspan>² = 0.62 ***</text>
</g>
<g>
<g fill="#6e8195" fill-opacity="0.8">
<circle cx="54" cy="736" r="3.4"/>
<circle cx="158" cy="710" r="3.4"/>
<circle cx="154.75" cy="722.75" r="3.4"/>
<circle cx="114.6" cy="739" r="3.4"/>
<circle cx="120.5" cy="743.5" r="3.4"/>
<circle cx="126.5" cy="744.75" r="3.4"/>
<circle cx="132.9" cy="753.25" r="3.4"/>
<circle cx="165" cy="738" r="3.4"/>
<circle cx="168.75" cy="738.25" r="3.4"/>
<circle cx="86.75" cy="780.25" r="3.4"/>
<circle cx="126.5" cy="786" r="3.4"/>
<circle cx="74.75" cy="795" r="3.4"/>
<circle cx="71.5" cy="799.75" r="3.4"/>
<circle cx="72.5" cy="799.5" r="3.4"/>
<circle cx="87" cy="809.5" r="3.4"/>
<circle cx="138.9" cy="832.75" r="3.4"/>
<circle cx="175.5" cy="728.75" r="3.4"/>
<circle cx="178.75" cy="728.5" r="3.4"/>
</g>
<path d="M54.25 763.44 L57.44 762.92 L60.62 762.39 L63.81 761.84 L66.99 761.27 L70.18 760.69 L73.37 760.08 L76.55 759.45 L79.74 758.8 L82.92 758.11 L86.11 757.38 L89.29 756.62 L92.48 755.81 L95.67 754.95 L98.85 754.04 L102.04 753.06 L105.22 752.01 L108.41 750.88 L111.6 749.67 L114.78 748.37 L117.97 746.97 L121.15 745.47 L124.34 743.87 L127.53 742.17 L130.71 740.37 L133.9 738.47 L137.08 736.48 L140.27 734.41 L143.46 732.26 L146.64 730.04 L149.83 727.76 L153.01 725.42 L156.2 723.04 L159.38 720.6 L162.57 718.13 L165.76 715.63 L168.94 713.09 L172.13 710.53 L175.31 707.94 L178.5 705.33 L178.5 758.67 L175.31 759.26 L172.13 759.86 L168.94 760.49 L165.76 761.14 L162.57 761.83 L159.38 762.55 L156.2 763.31 L153.01 764.11 L149.83 764.97 L146.64 765.88 L143.46 766.85 L140.27 767.9 L137.08 769.02 L133.9 770.22 L130.71 771.52 L127.53 772.91 L124.34 774.4 L121.15 775.99 L117.97 777.69 L114.78 779.48 L111.6 781.37 L108.41 783.35 L105.22 785.42 L102.04 787.56 L98.85 789.77 L95.67 792.05 L92.48 794.38 L89.29 796.76 L86.11 799.19 L82.92 801.66 L79.74 804.17 L76.55 806.7 L73.37 809.26 L70.18 811.85 L66.99 814.46 L63.81 817.08 L60.62 819.73 L57.44 822.39 L54.25 825.06 Z" fill="#999999" fill-opacity="0.375"/>
<line x1="54.25" y1="794.25" x2="178.5" y2="732" stroke="#2a2a2a" stroke-width="1.1"/>
<rect x="26.05" y="665.65" width="186.45" height="186.35" fill="none" stroke="#404040" stroke-width="0.85"/>
<path d="M63.61 852.4 v1.8 M103.73 852.4 v1.8 M143.85 852.4 v1.8 M183.97 852.4 v1.8 M25.65 702.5 h-1.8 M25.65 759 h-1.8 M25.65 815.5 h-1.8" stroke="#262626" stroke-width="1.05" fill="none"/>
<g font-size="8.8" fill="#000000" stroke="#000000" stroke-width="0.22">
<text x="63.2" y="862.25" text-anchor="middle">600</text>
<text x="101.5" y="862.25" text-anchor="middle">800</text>
<text x="139.8" y="862.25" text-anchor="middle">1000</text>
<text x="177.3" y="862.25" text-anchor="middle">1200</text>
<text x="22" y="705.15" text-anchor="end">2</text>
<text x="22" y="761.65" text-anchor="end">0</text>
<text x="22" y="818.15" text-anchor="end">-2</text>
</g>
<text x="116.5" y="873.75" font-size="12" text-anchor="middle" fill="#000000">Elevation (m)</text>
<text transform="translate(9.5 753.73) rotate(-90)" font-size="12" text-anchor="middle" fill="#000000">MAT (°C)</text>
<text x="0.85" y="666.75" font-size="14.3" fill="#000000">(j)</text>
<text x="196.9" y="685.8" font-size="12" text-anchor="end" fill="#000000"><tspan font-style="italic">R</tspan>² = 0.31 *</text>
</g>
<g>
<g fill="#6e8195" fill-opacity="0.8">
<circle cx="290" cy="704.75" r="3.4"/>
<circle cx="306.75" cy="704" r="3.4"/>
<circle cx="307.75" cy="698.75" r="3.4"/>
<circle cx="310.25" cy="697" r="3.4"/>
<circle cx="321.75" cy="703.75" r="3.4"/>
<circle cx="321.25" cy="714" r="3.4"/>
<circle cx="371.25" cy="744.75" r="3.4"/>
<circle cx="359.5" cy="764" r="3.4"/>
<circle cx="359.5" cy="779" r="3.4"/>
<circle cx="348.4" cy="786" r="3.4"/>
<circle cx="353.75" cy="797" r="3.4"/>
<circle cx="365.5" cy="806" r="3.4"/>
<circle cx="389.9" cy="804" r="3.4"/>
<circle cx="386.4" cy="818" r="3.4"/>
<circle cx="396.6" cy="812.25" r="3.4"/>
<circle cx="399.4" cy="817" r="3.4"/>
<circle cx="406.25" cy="778" r="3.4"/>
<circle cx="409.25" cy="786" r="3.4"/>
</g>
<path d="M294.25 675.3 L297.2 679.14 L300.15 682.98 L303.1 686.8 L306.04 690.61 L308.99 694.4 L311.94 698.17 L314.89 701.93 L317.84 705.66 L320.79 709.36 L323.74 713.04 L326.69 716.68 L329.63 720.28 L332.58 723.85 L335.53 727.36 L338.48 730.83 L341.43 734.24 L344.38 737.59 L347.33 740.87 L350.28 744.08 L353.22 747.22 L356.17 750.29 L359.12 753.28 L362.07 756.19 L365.02 759.04 L367.97 761.81 L370.92 764.52 L373.87 767.17 L376.81 769.77 L379.76 772.31 L382.71 774.81 L385.66 777.28 L388.61 779.7 L391.56 782.09 L394.51 784.46 L397.46 786.8 L400.4 789.12 L403.35 791.42 L406.3 793.7 L409.25 795.96 L409.25 838.04 L406.3 834.23 L403.35 830.43 L400.4 826.65 L397.46 822.89 L394.51 819.16 L391.56 815.44 L388.61 811.76 L385.66 808.11 L382.71 804.49 L379.76 800.92 L376.81 797.39 L373.87 793.9 L370.92 790.48 L367.97 787.11 L365.02 783.81 L362.07 780.58 L359.12 777.41 L356.17 774.33 L353.22 771.32 L350.28 768.38 L347.33 765.51 L344.38 762.72 L341.43 759.99 L338.48 757.32 L335.53 754.71 L332.58 752.15 L329.63 749.64 L326.69 747.17 L323.74 744.73 L320.79 742.33 L317.84 739.96 L314.89 737.61 L311.94 735.29 L308.99 732.98 L306.04 730.7 L303.1 728.43 L300.15 726.18 L297.2 723.93 L294.25 721.7 Z" fill="#999999" fill-opacity="0.375"/>
<line x1="294.25" y1="698.5" x2="409.25" y2="817" stroke="#2a2a2a" stroke-width="1.1"/>
<rect x="263.15" y="665.65" width="178.85" height="186.35" fill="none" stroke="#404040" stroke-width="0.85"/>
<path d="M299.18 852.4 v1.8 M337.66 852.4 v1.8 M376.15 852.4 v1.8 M414.63 852.4 v1.8 M262.75 674 h-1.8 M262.75 724 h-1.8 M262.75 773.75 h-1.8 M262.75 823.75 h-1.8" stroke="#262626" stroke-width="1.05" fill="none"/>
<g font-size="8.8" fill="#000000" stroke="#000000" stroke-width="0.22">
<text x="298.9" y="862.25" text-anchor="middle">600</text>
<text x="336.2" y="862.25" text-anchor="middle">800</text>
<text x="372.8" y="862.25" text-anchor="middle">1000</text>
<text x="409.3" y="862.25" text-anchor="middle">1200</text>
<text x="258.15" y="676.65" text-anchor="end">0.5</text>
<text x="258.15" y="726.65" text-anchor="end">0.0</text>
<text x="258.15" y="776.4" text-anchor="end">-0.5</text>
<text x="258.15" y="826.4" text-anchor="end">-1.0</text>
</g>
<text x="350.2" y="873.75" font-size="12" text-anchor="middle" fill="#000000">Elevation (m)</text>
<text transform="translate(239.75 761.33) rotate(-90)" font-size="12" text-anchor="middle" fill="#000000">SPEIgs</text>
<text x="230.6" y="666.75" font-size="14.3" fill="#000000">(k)</text>
<text x="428.75" y="685.8" font-size="12" text-anchor="end" fill="#000000"><tspan font-style="italic">R</tspan>² = 0.74 ***</text>
</g>
<g>
<g fill="#6e8195" fill-opacity="0.8">
<circle cx="529.75" cy="795.4" r="3.4"/>
<circle cx="546.75" cy="772.6" r="3.4"/>
<circle cx="547.9" cy="792.4" r="3.4"/>
<circle cx="550.4" cy="794.5" r="3.4"/>
<circle cx="562.25" cy="773.25" r="3.4"/>
<circle cx="561.75" cy="801.4" r="3.4"/>
<circle cx="589.25" cy="748.75" r="3.4"/>
<circle cx="600.5" cy="750.5" r="3.4"/>
<circle cx="594.5" cy="789.5" r="3.4"/>
<circle cx="606.6" cy="768.4" r="3.4"/>
<circle cx="612.6" cy="757.25" r="3.4"/>
<circle cx="600.5" cy="827" r="3.4"/>
<circle cx="628" cy="711.25" r="3.4"/>
<circle cx="631.5" cy="712" r="3.4"/>
<circle cx="641.5" cy="723.25" r="3.4"/>
<circle cx="651.25" cy="724.75" r="3.4"/>
<circle cx="648.25" cy="730.75" r="3.4"/>
<circle cx="638.25" cy="752" r="3.4"/>
</g>
<path d="M530 781.18 L533.1 780.06 L536.21 778.92 L539.31 777.78 L542.41 776.62 L545.51 775.44 L548.62 774.25 L551.72 773.04 L554.82 771.81 L557.92 770.56 L561.03 769.28 L564.13 767.97 L567.23 766.62 L570.33 765.24 L573.44 763.81 L576.54 762.34 L579.64 760.81 L582.74 759.22 L585.85 757.56 L588.95 755.84 L592.05 754.04 L595.15 752.16 L598.26 750.21 L601.36 748.17 L604.46 746.07 L607.56 743.88 L610.67 741.63 L613.77 739.31 L616.87 736.93 L619.97 734.5 L623.08 732.02 L626.18 729.49 L629.28 726.93 L632.38 724.33 L635.49 721.7 L638.59 719.05 L641.69 716.37 L644.79 713.67 L647.9 710.95 L651 708.21 L651 749.29 L647.9 750.46 L644.79 751.65 L641.69 752.86 L638.59 754.09 L635.49 755.35 L632.38 756.63 L629.28 757.94 L626.18 759.29 L623.08 760.67 L619.97 762.1 L616.87 763.58 L613.77 765.11 L610.67 766.7 L607.56 768.36 L604.46 770.09 L601.36 771.89 L598.26 773.77 L595.15 775.72 L592.05 777.76 L588.95 779.87 L585.85 782.06 L582.74 784.31 L579.64 786.63 L576.54 789.01 L573.44 791.44 L570.33 793.93 L567.23 796.45 L564.13 799.02 L561.03 801.62 L557.92 804.25 L554.82 806.9 L551.72 809.58 L548.62 812.28 L545.51 815.01 L542.41 817.74 L539.31 820.49 L536.21 823.26 L533.1 826.03 L530 828.82 Z" fill="#999999" fill-opacity="0.375"/>
<line x1="530" y1="805" x2="651" y2="728.75" stroke="#2a2a2a" stroke-width="1.1"/>
<rect x="502.65" y="665.65" width="181.85" height="186.35" fill="none" stroke="#404040" stroke-width="0.85"/>
<path d="M539.28 852.4 v1.8 M578.41 852.4 v1.8 M617.54 852.4 v1.8 M656.67 852.4 v1.8 M502.25 674 h-1.8 M502.25 716.5 h-1.8 M502.25 759 h-1.8 M502.25 801.5 h-1.8 M502.25 844 h-1.8" stroke="#262626" stroke-width="1.05" fill="none"/>
<g font-size="8.8" fill="#000000" stroke="#000000" stroke-width="0.22">
<text x="538.9" y="862.25" text-anchor="middle">600</text>
<text x="576.8" y="862.25" text-anchor="middle">800</text>
<text x="614.5" y="862.25" text-anchor="middle">1000</text>
<text x="651.6" y="862.25" text-anchor="middle">1200</text>
<text x="497.95" y="676.65" text-anchor="end">8.0</text>
<text x="497.95" y="719.15" text-anchor="end">7.5</text>
<text x="497.95" y="761.65" text-anchor="end">7.0</text>
<text x="497.95" y="804.15" text-anchor="end">6.5</text>
<text x="497.95" y="846.65" text-anchor="end">6.0</text>
</g>
<text x="591" y="873.75" font-size="12" text-anchor="middle" fill="#000000">Elevation (m)</text>
<text transform="translate(482 760.33) rotate(-90)" font-size="12" text-anchor="middle" fill="#000000">Soil pH</text>
<text x="473" y="666.75" font-size="14.3" fill="#000000">(l)</text>
<text x="669" y="685.8" font-size="12" text-anchor="end" fill="#000000"><tspan font-style="italic">R</tspan>² = 0.54 ***</text>
</g>
</svg>
</body></html>
